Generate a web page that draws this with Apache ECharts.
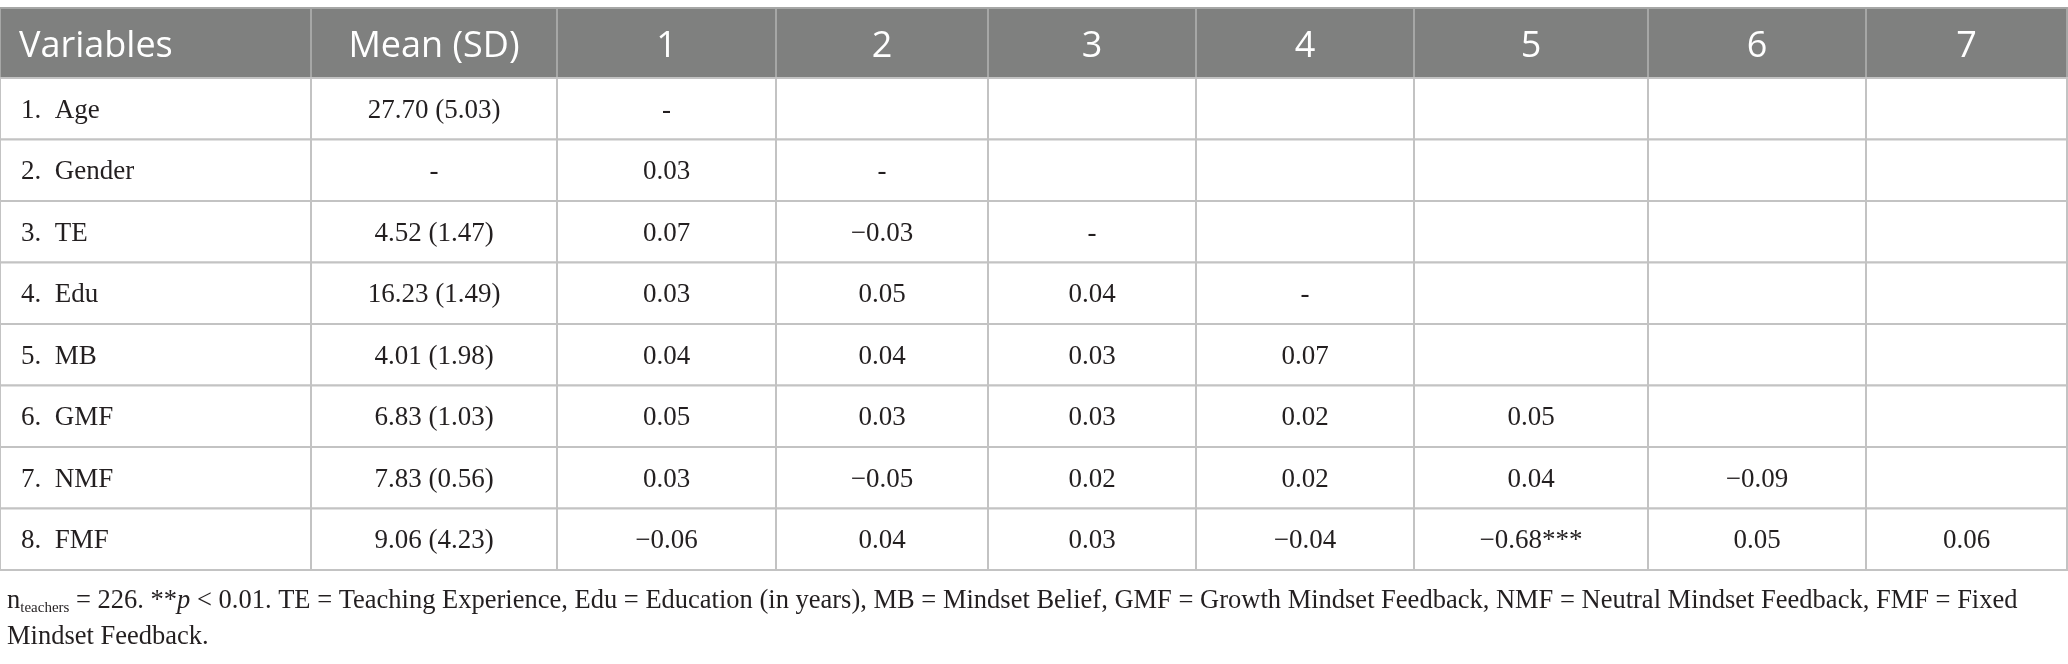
<!DOCTYPE html>
<html>
<head>
<meta charset="utf-8">
<script src="https://cdn.jsdelivr.net/npm/echarts@6.0.0/dist/echarts.min.js"></script>
<style>
html, body { margin: 0; padding: 0; background: #fff; }
#main { width: 2068px; height: 664px; }
</style>
</head>
<body>
<div id="main"></div>
<script>
// 相关矩阵表格 - 描述统计与相关
var headers = ['Variables', 'Mean (SD)', '1', '2', '3', '4', '5', '6', '7'];
var variables = ['1.  Age', '2.  Gender', '3.  TE', '4.  Edu', '5.  MB', '6.  GMF', '7.  NMF', '8.  FMF'];
var means = ['27.70 (5.03)', '-', '4.52 (1.47)', '16.23 (1.49)', '4.01 (1.98)', '6.83 (1.03)', '7.83 (0.56)', '9.06 (4.23)'];

var corrAge = ['-'];
var corrGender = ['0.03', '-'];
var corrTE = ['0.07', '\u22120.03', '-'];
var corrEdu = ['0.03', '0.05', '0.04', '-'];
var corrMB = ['0.04', '0.04', '0.03', '0.07'];
var corrGMF = ['0.05', '0.03', '0.03', '0.02', '0.05'];
var corrNMF = ['0.03', '\u22120.05', '0.02', '0.02', '0.04', '\u22120.09'];
var corrFMF = ['\u22120.06', '0.04', '0.03', '\u22120.04', '\u22120.68***', '0.05', '0.06'];
var corrRows = [corrAge, corrGender, corrTE, corrEdu, corrMB, corrGMF, corrNMF, corrFMF];

// layout
var colWidths = [311, 246, 219, 212, 208, 218, 234, 218, 201];
var headerHeight = 70, rowHeight = 61.5;

var colEdges = [0];
colWidths.forEach(function (w) { colEdges.push(colEdges[colEdges.length - 1] + w); });
var rowEdges = [0, headerHeight];
variables.forEach(function () { rowEdges.push(rowEdges[rowEdges.length - 1] + rowHeight); });

var cells = [];
headers.forEach(function (h, c) { cells.push([c, 0, h]); });
variables.forEach(function (v, i) {
    var r = i + 1;
    cells.push([0, r, v]);
    cells.push([1, r, means[i]]);
    for (var k = 0; k < 7; k++) {
        var t = corrRows[i][k];
        cells.push([k + 2, r, t === undefined ? '' : t]);
    }
});

var chart = echarts.init(document.getElementById('main'));

var option = {
    animation: false,
    backgroundColor: '#fff',
    grid: {
        left: 0,
        top: 8,
        width: colEdges[colEdges.length - 1],
        height: rowEdges[rowEdges.length - 1]
    },
    xAxis: {
        type: 'value',
        min: 0,
        max: colEdges[colEdges.length - 1],
        show: false
    },
    yAxis: {
        type: 'value',
        min: 0,
        max: rowEdges[rowEdges.length - 1],
        inverse: true,
        show: false
    },
    title: {
        left: 2,
        top: 578,
        text: '{a|n}{sub|teachers}{a| = 226. **}{i|p}{a| < 0.01. TE = Teaching Experience, Edu = Education (in years), MB = Mindset Belief, GMF = Growth Mindset Feedback, NMF = Neutral Mindset Feedback, FMF = Fixed}\n{a|Mindset Feedback.}',
        textStyle: {
            fontWeight: 'normal',
            rich: {
                a: { fontFamily: 'Liberation Serif', fontSize: 26.5, fontWeight: 'normal', color: '#231f20', lineHeight: 36 },
                i: { fontFamily: 'Liberation Serif', fontSize: 26.5, fontWeight: 'normal', fontStyle: 'italic', color: '#231f20', lineHeight: 36 },
                sub: { fontFamily: 'Liberation Serif', fontSize: 15, fontWeight: 'normal', color: '#231f20', lineHeight: 36, padding: [14, 0, 0, 0] }
            }
        }
    },
    series: [{
        type: 'custom',
        data: cells,
        renderItem: function (params, api) {
            var cell = cells[params.dataIndex];
            var c = cell[0], r = cell[1];
            var p0 = api.coord([colEdges[c], rowEdges[r]]);
            var p1 = api.coord([colEdges[c + 1], rowEdges[r + 1]]);
            var isHead = r === 0;
            var leftCol = c === 0;
            return {
                type: 'group',
                children: [{
                    type: 'rect',
                    shape: { x: p0[0], y: p0[1], width: p1[0] - p0[0], height: p1[1] - p0[1] },
                    style: {
                        fill: isHead ? '#7f807f' : '#fff',
                        stroke: isHead ? '#a6a7a6' : '#c3c3c3',
                        lineWidth: 2
                    }
                }, {
                    type: 'text',
                    style: {
                        text: cell[2],
                        x: leftCol ? p0[0] + (isHead ? 19 : 21) : (p0[0] + p1[0]) / 2,
                        y: (p0[1] + p1[1]) / 2 + (isHead ? 4 : 2),
                        align: leftCol ? 'left' : 'center',
                        verticalAlign: 'middle',
                        fontFamily: isHead ? 'Open Sans' : 'Liberation Serif',
                        fontSize: isHead ? 36 : 27,
                        fill: isHead ? '#fff' : '#231f20'
                    }
                }]
            };
        }
    }]
};
chart.setOption(option);
</script>
</body>
</html>
